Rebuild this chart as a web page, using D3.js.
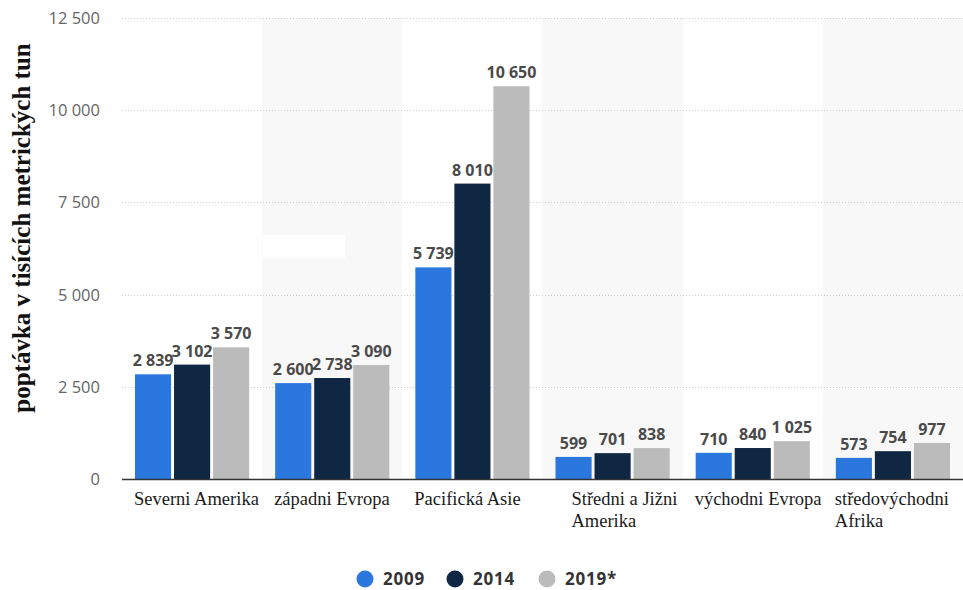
<!DOCTYPE html>
<html><head><meta charset="utf-8">
<script src="https://cdn.jsdelivr.net/npm/d3@7"></script>
<style>body{margin:0;background:#fff}svg{display:block}</style>
</head><body>
<svg id="chart" width="963" height="590"></svg>
<script>
const categories = [["Severni Amerika"],["západni Evropa"],["Pacifická Asie"],["Středni a Jižni","Amerika"],["východni Evropa"],["středovýchodni","Afrika"]];
const seriesNames = ["2009","2014","2019*"];
const values2009 = [2839,2600,5739,599,710,573];
const values2014 = [3102,2738,8010,701,840,754];
const values2019 = [3570,3090,10650,838,1025,977];
const yTicks = [0,2500,5000,7500,10000,12500];
const colors = ["#2a78de","#0f2742","#bbbbbb"];

(function () {
const series = [values2009, values2014, values2019];
const svg = d3.select("#chart");
const mLeft = 122, mRight = 963, mTop = 18, mBottom = 479;
const fmt = v => d3.format(",")(v).replace(/,/g, " ");

const x0 = d3.scaleBand().domain(d3.range(categories.length)).range([mLeft, mRight]).paddingInner(0).paddingOuter(0);
const x1 = d3.scaleBand().domain(d3.range(series.length)).range([13, x0.bandwidth() - 13]).paddingInner(0.075);
const y = d3.scaleLinear().domain([0, 12500]).range([mBottom, mTop]);

// alternating bands
svg.selectAll("rect.band").data(d3.range(categories.length).filter(i => i % 2 === 1)).enter()
  .append("rect").attr("x", i => x0(i)).attr("y", y(12500)).attr("width", x0.bandwidth())
  .attr("height", y(0) - y(12500)).attr("fill", "#f8f8f8");

// white box
svg.append("rect").attr("x", 263).attr("y", 235).attr("width", 82).attr("height", 23).attr("fill", "#ffffff");

// gridlines
svg.selectAll("line.grid").data(yTicks.filter(t => t > 0)).enter().append("line")
  .attr("x1", mLeft).attr("x2", mRight).attr("y1", d => Math.round(y(d)) + 0.5).attr("y2", d => Math.round(y(d)) + 0.5)
  .attr("stroke", "#cfcfcf").attr("stroke-width", 1).attr("stroke-dasharray", "1,2");

// y tick labels
svg.selectAll("text.ytick").data(yTicks).enter().append("text")
  .attr("x", 100).attr("y", d => y(d) + 6).attr("text-anchor", "end")
  .attr("font-family", "'Open Sans', sans-serif").attr("font-size", 16.5).attr("fill", "#666")
  .text(d => fmt(d));

// bars
series.forEach((vals, s) => {
  svg.selectAll("rect.bar" + s).data(vals).enter().append("rect")
    .attr("x", (d, i) => x0(i) + x1(s)).attr("y", d => y(d))
    .attr("width", x1.bandwidth()).attr("height", d => y(0) - y(d))
    .attr("fill", colors[s]);
});
series.forEach((vals, s) => {
  svg.selectAll("text.lbl" + s).data(vals).enter().append("text")
    .attr("x", (d, i) => x0(i) + x1(s) + x1.bandwidth() / 2).attr("y", d => y(d) - 8)
    .attr("text-anchor", "middle").attr("font-family", "'Open Sans', sans-serif")
    .attr("font-weight", "bold").attr("font-size", 16).attr("fill", "#4a4a4a")
    .text(d => fmt(d));
});

// axis line
svg.append("line").attr("x1", mLeft).attr("x2", mRight).attr("y1", mBottom + 0.5).attr("y2", mBottom + 0.5)
  .attr("stroke", "#333").attr("stroke-width", 1.5);

// x labels (left-aligned from the start of each band)
categories.forEach((lines, i) => {
  const g = svg.append("text").attr("font-family", "'Liberation Serif', 'Times New Roman', serif")
    .attr("font-size", 18.5).attr("fill", "#1a1a1a").attr("y", 505);
  lines.forEach((ln, k) => g.append("tspan").attr("dy", k === 0 ? 0 : 22).text(ln));
  const indent = i === 3 ? 29 : 12;
  g.selectAll("tspan").attr("x", x0(i) + indent);
});

// y title
svg.append("text").attr("transform", "translate(30,228) rotate(-90)").attr("text-anchor", "middle")
  .attr("font-family", "'Liberation Serif', 'Times New Roman', serif").attr("font-weight", "bold")
  .attr("font-size", 25).attr("fill", "#111").text("poptávka v tisících metrických tun");

// legend
const legX = [365, 455, 547];
seriesNames.forEach((n, s) => {
  svg.append("circle").attr("cx", legX[s]).attr("cy", 579).attr("r", 8.5).attr("fill", colors[s]);
  svg.append("text").attr("x", legX[s] + 18).attr("y", 585).attr("font-family", "'Open Sans', sans-serif")
    .attr("font-weight", "bold").attr("font-size", 17).attr("letter-spacing", 0.8).attr("fill", "#333").text(n);
});
})();
</script>
</body></html>
